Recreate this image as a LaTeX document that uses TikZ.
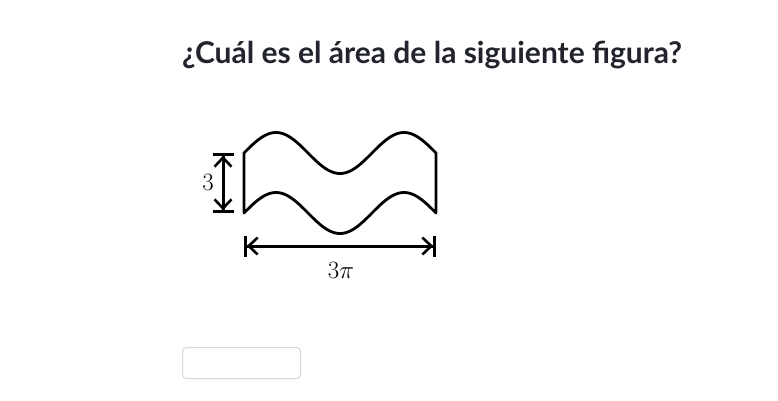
\documentclass[tikz,border=0pt]{standalone}
\usepackage{fontspec}
\newfontfamily\latofont{Lato}
\usetikzlibrary{arrows.meta}
\definecolor{titlecol}{HTML}{21242C}
\definecolor{boxcol}{HTML}{D6D8DA}
\tikzset{
  figline/.style={line width=2.8pt, black, line join=round},
  dimarrow/.style={black,
    {Bar[width=21pt,line width=2.8pt]Straight Barb[sep=0pt,line width=2.6pt,length=9pt,width=17pt]}-{Straight Barb[sep=0pt,line width=2.6pt,length=9pt,width=17pt]Bar[width=21pt,line width=2.8pt]}},
  dimlabel/.style={font=\fontsize{23}{26}\selectfont, inner sep=0pt},
  answerbox/.style={draw=boxcol, line width=1pt, rounded corners=4pt}
}
\begin{document}
\begin{tikzpicture}[x=1pt,y=-1pt]
\useasboundingbox (0,0) rectangle (778,400);
% title
\node[anchor=base west, inner sep=0pt, text=titlecol, font=\latofont\bfseries\fontsize{30}{34}\selectfont] (title) at (182,63) {¿Cuál es el área de la siguiente figura?};
% wave shape
\draw[figline] plot[domain=0:3*pi, samples=120, variable=\t] ({244+192*\t/(3*pi)}, {153-20.5*sin(\t r)})
  -- plot[domain=3*pi:0, samples=120, variable=\t] ({244+192*\t/(3*pi)}, {213-20.5*sin(\t r)}) -- cycle;
% dimension arrows
\coordinate (vtop) at (223,153);
\coordinate (vbot) at (223,213);
\coordinate (hleft) at (244,246);
\coordinate (hright) at (436,246);
\draw[dimarrow, line width=3pt] (vtop) -- (vbot);
\draw[dimarrow, line width=3pt] (hleft) -- (hright);
\node[dimlabel] (hlab) at (208,182) {$3$};
\node[dimlabel] (wlab) at (341,270) {$3\pi$};
% answer box
\node[answerbox, minimum width=118pt, minimum height=31pt, inner sep=0pt, anchor=north west] (answer) at (182,347) {};
\end{tikzpicture}
\end{document}
